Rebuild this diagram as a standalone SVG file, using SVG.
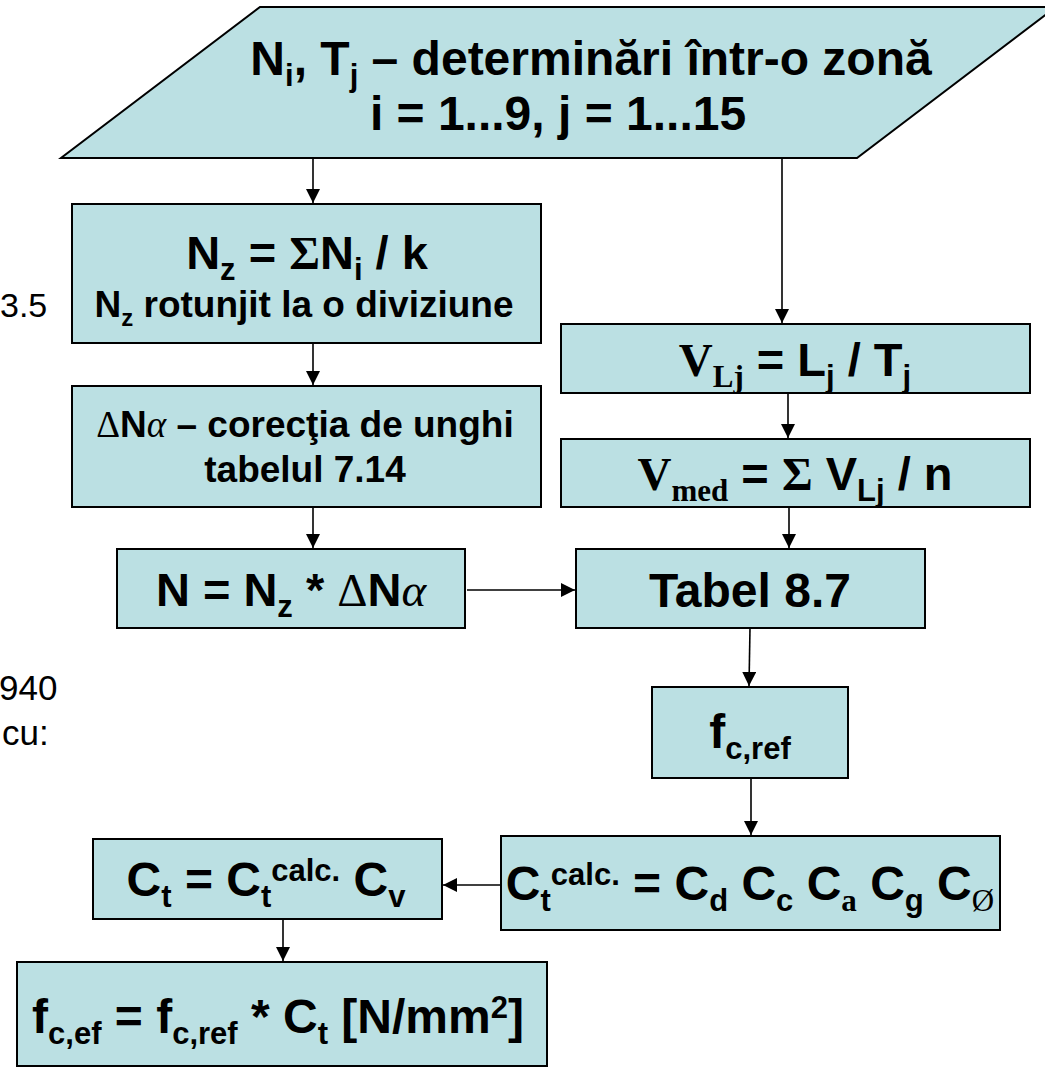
<svg xmlns="http://www.w3.org/2000/svg" width="1045" height="1067" viewBox="0 0 1045 1067">
<style>
.box{fill:#BBE0E3;stroke:#000;stroke-width:2}
.t{font-family:"Liberation Sans",Arial,sans-serif;font-weight:bold;fill:#000}
.r{font-family:"Liberation Sans",Arial,sans-serif;font-weight:normal;fill:#000;font-size:35px}
.sb{font-family:"Liberation Serif","Times New Roman",serif;font-weight:bold}
.sn{font-family:"Liberation Serif","Times New Roman",serif;font-weight:normal}
.it{font-family:"Liberation Serif","Times New Roman",serif;font-style:italic;font-weight:normal}
.f48{font-size:48px}
.f47{font-size:47px}
.f37{font-size:37px}
.sub{font-size:31px;baseline-shift:-11px}
.sup{font-size:31px;baseline-shift:15px}
.sub2{font-size:24px;baseline-shift:-9px}
.conn line{stroke:#000;stroke-width:1.6;fill:none}
</style>
<defs>
<marker id="ah" markerUnits="userSpaceOnUse" markerWidth="14" markerHeight="14" refX="14" refY="7" orient="auto">
<path d="M0,0 L14,7 L0,14 z" fill="#000"/>
</marker>
</defs>

<g id="side-texts">
<text class="r" x="0" y="317" style="font-size:34px">3.5</text>
<text class="r" x="-1" y="700">940</text>
<text class="r" x="2" y="745">cu:</text>
</g>

<g id="n-input">
<polygon class="box" points="260,7 1056,7 857,158 61,158"/>
<text class="t f48" x="591" y="75" text-anchor="middle">N<tspan class="sub">i</tspan>, T<tspan class="sub">j</tspan> – determinări într-o zonă</text>
<text class="t f48" x="558" y="130" text-anchor="middle">i = 1...9, j = 1...15</text>
</g>

<g id="n-nz">
<rect class="box" x="72" y="204" width="469" height="139"/>
<text class="t f47" x="307" y="269" text-anchor="middle">N<tspan class="sub">z</tspan> = <tspan class="sb">Σ</tspan>N<tspan class="sub">i</tspan> / k</text>
<text class="t f37" x="304" y="317" text-anchor="middle">N<tspan class="sub2">z</tspan> rotunjit la o diviziune</text>
</g>

<g id="n-dn">
<rect class="box" x="72" y="386" width="469" height="121"/>
<text class="t f37" x="305" y="437" text-anchor="middle"><tspan class="sn">Δ</tspan>N<tspan class="it">α</tspan> – corecţia de unghi</text>
<text class="t f37" x="305" y="482" text-anchor="middle">tabelul 7.14</text>
</g>

<g id="n-n">
<rect class="box" x="117" y="549" width="348" height="79"/>
<text class="t f47" x="291" y="606" text-anchor="middle">N = N<tspan class="sub">z</tspan> * <tspan class="sn">Δ</tspan>N<tspan class="it">α</tspan></text>
</g>

<g id="n-vlj">
<rect class="box" x="561" y="324" width="469" height="69"/>
<text class="t f47" x="795" y="376" text-anchor="middle"><tspan class="sb">V</tspan><tspan class="sb sub">Lj</tspan> = L<tspan class="sub">j</tspan> / T<tspan class="sub">j</tspan></text>
</g>

<g id="n-vmed">
<rect class="box" x="561" y="439" width="469" height="68"/>
<text class="t f47" x="795" y="490" text-anchor="middle"><tspan class="sb">V</tspan><tspan class="sb sub">med</tspan> = <tspan class="sb">Σ</tspan> V<tspan class="sub">Lj</tspan> / n</text>
</g>

<g id="n-tabel">
<rect class="box" x="576" y="549" width="349" height="79"/>
<text class="t f48" x="750" y="607" text-anchor="middle">Tabel 8.7</text>
</g>

<g id="n-fcref">
<rect class="box" x="652" y="687" width="196" height="91"/>
<text class="t f48" x="750" y="748" text-anchor="middle">f<tspan class="sub">c,ref</tspan></text>
</g>

<g id="n-ctcalc">
<rect class="box" x="501" y="836" width="499" height="94"/>
<text class="t f48" x="750" y="900" text-anchor="middle">C<tspan class="sub">t</tspan><tspan class="sup">calc.</tspan> = C<tspan class="sub">d</tspan> C<tspan class="sub">c</tspan> C<tspan class="sub sb">a</tspan> C<tspan class="sub">g</tspan> C<tspan class="sub sn">Ø</tspan></text>
</g>

<g id="n-ct">
<rect class="box" x="93" y="839" width="349" height="80"/>
<text class="t f48" x="266" y="896" text-anchor="middle">C<tspan class="sub">t</tspan> = C<tspan class="sub">t</tspan><tspan class="sup">calc.</tspan> C<tspan class="sub">v</tspan></text>
</g>

<g id="n-fcef">
<rect class="box" x="17" y="962" width="530" height="104"/>
<text class="t f48" x="278" y="1033" text-anchor="middle">f<tspan class="sub">c,ef</tspan> = f<tspan class="sub">c,ref</tspan> * C<tspan class="sub">t</tspan> [N/mm<tspan class="sup">2</tspan>]</text>
</g>

<g id="connectors" class="conn">
<line x1="313" y1="158" x2="313" y2="203" marker-end="url(#ah)"/>
<line x1="782" y1="158" x2="782" y2="323" marker-end="url(#ah)"/>
<line x1="313" y1="343" x2="313" y2="385" marker-end="url(#ah)"/>
<line x1="788" y1="393" x2="788" y2="438" marker-end="url(#ah)"/>
<line x1="313" y1="507" x2="313" y2="548" marker-end="url(#ah)"/>
<line x1="789" y1="507" x2="789" y2="548" marker-end="url(#ah)"/>
<line x1="467" y1="590" x2="575" y2="590" marker-end="url(#ah)"/>
<line x1="750" y1="628" x2="749" y2="686" marker-end="url(#ah)"/>
<line x1="751" y1="778" x2="751" y2="835" marker-end="url(#ah)"/>
<line x1="501" y1="885" x2="443" y2="885" marker-end="url(#ah)"/>
<line x1="283" y1="919" x2="283" y2="961" marker-end="url(#ah)"/>
</g>
</svg>
